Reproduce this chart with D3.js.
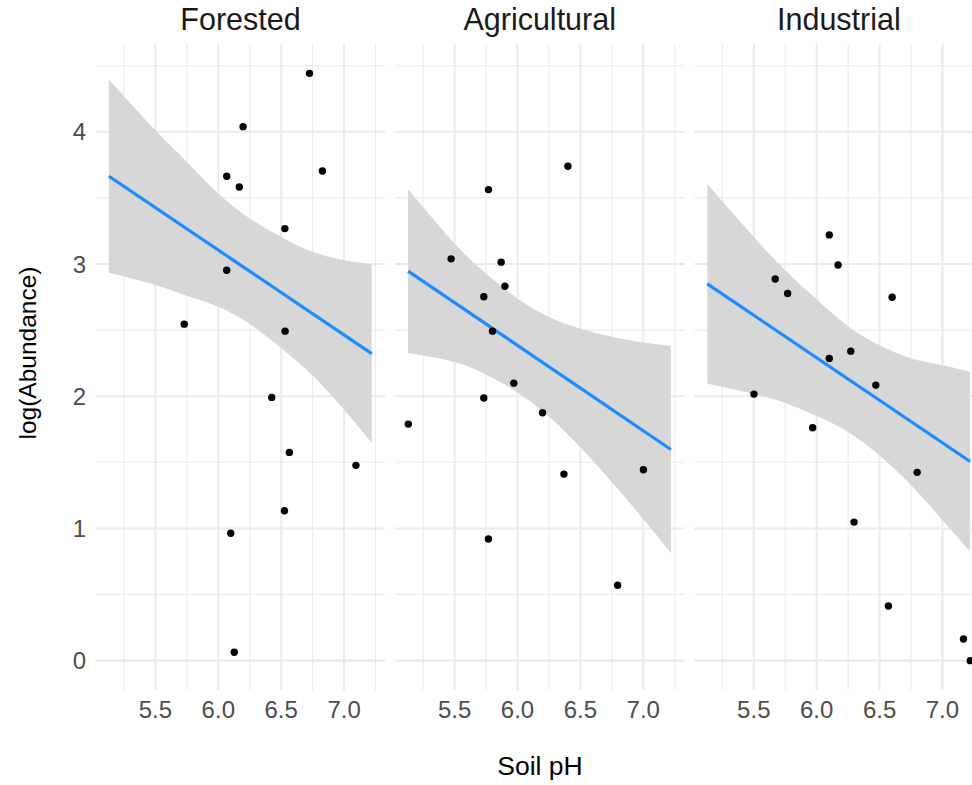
<!DOCTYPE html>
<html>
<head>
<meta charset="utf-8">
<script src="https://cdn.jsdelivr.net/npm/d3@7"></script>
<style>
  body { margin: 0; background: #fff; overflow: hidden; }
  text { font-family: "Liberation Sans", Arial, sans-serif; }
</style>
</head>
<body>
<svg id="chart"></svg>
<script>
// facet names
var landUse = ["Forested", "Agricultural", "Industrial"];

// points
var phForested = [6.725, 6.197, 6.067, 6.167, 6.828, 6.529, 6.067, 5.729, 6.531, 6.425, 6.565, 7.094, 6.526, 6.099, 6.127];
var abForested = [4.442, 4.039, 3.664, 3.583, 3.704, 3.268, 2.953, 2.545, 2.492, 1.991, 1.575, 1.477, 1.134, 0.963, 0.063];

var phAgricultural = [6.401, 5.769, 5.472, 5.870, 5.900, 5.732, 5.801, 5.971, 5.732, 5.132, 6.199, 6.369, 7.001, 5.769, 6.796];
var abAgricultural = [3.739, 3.563, 3.039, 3.014, 2.832, 2.752, 2.492, 2.099, 1.986, 1.789, 1.875, 1.411, 1.444, 0.920, 0.570];

var phIndustrial = [6.100, 6.170, 5.670, 5.769, 6.600, 6.271, 6.100, 6.470, 5.501, 5.968, 6.799, 6.297, 6.570, 7.167, 7.221];
var abIndustrial = [3.220, 2.993, 2.887, 2.777, 2.749, 2.341, 2.286, 2.084, 2.016, 1.761, 1.424, 1.048, 0.413, 0.164, 0.000];

// fitted line (value at each end of the pH range) and its ribbon
var fitPh = [5.13, 7.22];
var fitForested = [3.664, 2.322];
var fitAgricultural = [2.946, 1.597];
var fitIndustrial = [2.850, 1.506];

var bandPh = [5.13, 5.5, 5.75, 6.0, 6.25, 6.5, 6.75, 7.0, 7.22];
var upperForested = [4.395, 4.011, 3.772, 3.533, 3.344, 3.205, 3.092, 3.029, 2.998];
var lowerForested = [2.933, 2.841, 2.760, 2.677, 2.546, 2.365, 2.156, 1.897, 1.646];
var upperAgricultural = [3.565, 3.155, 2.928, 2.739, 2.600, 2.512, 2.449, 2.407, 2.379];
var lowerAgricultural = [2.327, 2.259, 2.164, 2.029, 1.846, 1.612, 1.351, 1.071, 0.815];
var upperIndustrial = [3.605, 3.205, 2.953, 2.731, 2.530, 2.386, 2.288, 2.235, 2.186];
var lowerIndustrial = [2.095, 2.019, 1.949, 1.851, 1.730, 1.552, 1.328, 1.061, 0.826];

// axis ticks
var xTicks = [5.5, 6.0, 6.5, 7.0];
var xMinor = [5.25, 5.75, 6.25, 6.75, 7.25];
var yTicks = [0, 1, 2, 3, 4];
var yMinor = [0.5, 1.5, 2.5, 3.5, 4.5];

var panels = [
  { name: landUse[0], ph: phForested, ab: abForested, fit: fitForested, up: upperForested, lo: lowerForested },
  { name: landUse[1], ph: phAgricultural, ab: abAgricultural, fit: fitAgricultural, up: upperAgricultural, lo: lowerAgricultural },
  { name: landUse[2], ph: phIndustrial, ab: abIndustrial, fit: fitIndustrial, up: upperIndustrial, lo: lowerIndustrial }
];

var svgW = 1000, svgH = 785;
var plotLeft = 96, plotTop = 44, plotBottom = 690;
var panelW = 289, gap = 10.2;

var svg = d3.select("#chart").attr("width", svgW).attr("height", svgH);

// shared scales, 5% padding like ggplot
var allPh = phForested.concat(phAgricultural, phIndustrial);
var allAb = abForested.concat(abAgricultural, abIndustrial);
var xExt = d3.extent(allPh), yExt = d3.extent(allAb);
var xPad = (xExt[1] - xExt[0]) * 0.05, yPad = (yExt[1] - yExt[0]) * 0.05;

var x = d3.scaleLinear().domain([xExt[0] - xPad, xExt[1] + xPad]).range([0, panelW]);
var y = d3.scaleLinear().domain([yExt[0] - yPad, yExt[1] + yPad]).range([plotBottom, plotTop]);

var area = d3.area()
  .x(function (d) { return x(d.ph); })
  .y0(function (d) { return y(d.lo); })
  .y1(function (d) { return y(d.up); })
  .curve(d3.curveNatural);

var line = d3.line()
  .x(function (d) { return x(d.ph); })
  .y(function (d) { return y(d.v); });

panels.forEach(function (p, i) {
  var g = svg.append("g").attr("transform", "translate(" + (plotLeft + i * (panelW + gap)) + ",0)");

  // grid
  g.selectAll(".xminor").data(xMinor).enter().append("line")
    .attr("x1", x).attr("x2", x).attr("y1", plotTop).attr("y2", plotBottom)
    .attr("stroke", "#EBEBEB").attr("stroke-width", 1.1);
  g.selectAll(".yminor").data(yMinor).enter().append("line")
    .attr("x1", 0).attr("x2", panelW).attr("y1", y).attr("y2", y)
    .attr("stroke", "#EBEBEB").attr("stroke-width", 1.1);
  g.selectAll(".xmajor").data(xTicks).enter().append("line")
    .attr("x1", x).attr("x2", x).attr("y1", plotTop).attr("y2", plotBottom)
    .attr("stroke", "#EBEBEB").attr("stroke-width", 2.1);
  g.selectAll(".ymajor").data(yTicks).enter().append("line")
    .attr("x1", 0).attr("x2", panelW).attr("y1", y).attr("y2", y)
    .attr("stroke", "#EBEBEB").attr("stroke-width", 2.1);

  // ribbon + fit
  var band = bandPh.map(function (ph, k) { return { ph: ph, lo: p.lo[k], up: p.up[k] }; });
  g.append("path").datum(band).attr("d", area).attr("fill", "#D7D7D7");
  var fit = fitPh.map(function (ph, k) { return { ph: ph, v: p.fit[k] }; });
  g.append("path").datum(fit).attr("d", line)
    .attr("fill", "none").attr("stroke", "#1E8CFF").attr("stroke-width", 3.2);

  // points
  g.selectAll(".pt").data(p.ph).enter().append("circle")
    .attr("cx", function (d) { return x(d); })
    .attr("cy", function (d, k) { return y(p.ab[k]); })
    .attr("r", 3.7).attr("fill", "#000");

  // strip label
  g.append("text").attr("x", panelW / 2).attr("y", 30)
    .attr("text-anchor", "middle").attr("font-size", 30.5).attr("fill", "#1A1A1A")
    .text(p.name);

  // x tick labels
  g.selectAll(".xlab").data(xTicks).enter().append("text")
    .attr("x", x).attr("y", 717.5)
    .attr("text-anchor", "middle").attr("font-size", 24).attr("fill", "#4D4D4D")
    .text(function (d) { return d3.format(".1f")(d); });
});

// y tick labels
svg.selectAll(".ylab").data(yTicks).enter().append("text")
  .attr("x", 86).attr("y", y).attr("dy", "0.36em")
  .attr("text-anchor", "end").attr("font-size", 24).attr("fill", "#4D4D4D")
  .text(function (d) { return d; });

// axis titles
svg.append("text").attr("x", 540).attr("y", 775)
  .attr("text-anchor", "middle").attr("font-size", 26.5).attr("fill", "#000")
  .text("Soil pH");
svg.append("text").attr("transform", "translate(36,353) rotate(-90)")
  .attr("text-anchor", "middle").attr("font-size", 24.5).attr("fill", "#000")
  .text("log(Abundance)");
</script>
</body>
</html>
